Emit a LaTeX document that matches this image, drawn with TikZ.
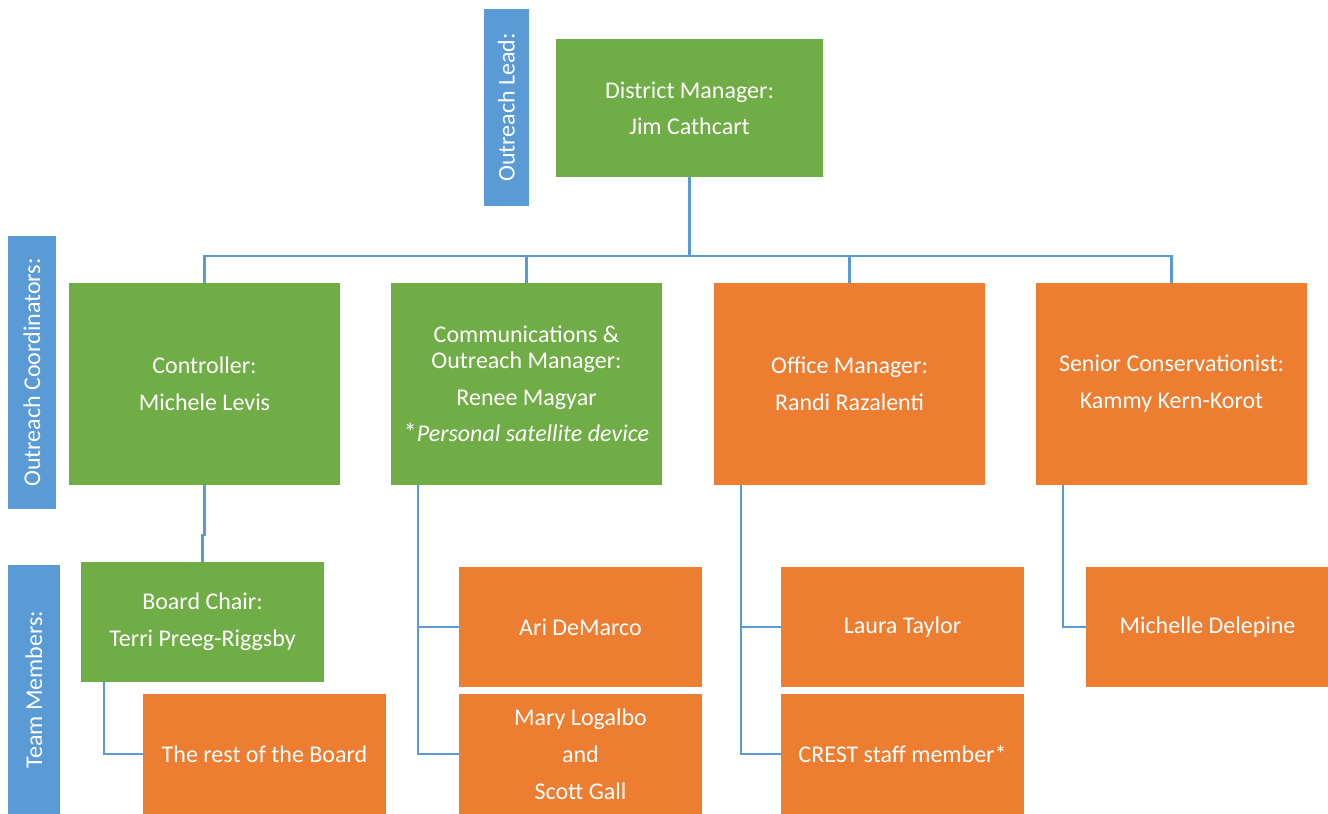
\documentclass[tikz,border=0pt]{standalone}
\usepackage{fontspec}
\setmainfont{Carlito}
\usetikzlibrary{calc}
\definecolor{cgreen}{HTML}{70AD47}
\definecolor{corange}{HTML}{ED7D31}
\definecolor{cblue}{HTML}{5B9BD5}
\tikzset{
  boxbase/.style={inner sep=0pt, outer sep=0pt, text=white, align=center,
    font=\fontsize{24bp}{26bp}\selectfont},
  gbox/.style={boxbase, fill=cgreen},
  obox/.style={boxbase, fill=corange},
  lblbox/.style={boxbase, fill=cblue, rotate=90},
  conn/.style={draw=cblue, line width=2.8bp},
}
\begin{document}
\begin{tikzpicture}[x=1bp,y=-1bp]
\useasboundingbox (0,0) rectangle (1328,813);
% side labels
\node[lblbox, minimum width=197bp, minimum height=45bp] (leadlbl) at (506.5,107.5) {Outreach Lead:};
\node[lblbox, minimum width=273bp, minimum height=48bp] (coordlbl) at (32,372.5) {Outreach Coordinators:};
\node[lblbox, minimum width=249bp, minimum height=52bp] (teamlbl) at (34,689.5) {Team Members:};
% top
\node[gbox, minimum width=267bp, minimum height=138bp] (dm) at (689.5,108) {District Manager:\\[10bp]Jim Cathcart};
% level 2
\node[gbox, minimum width=271bp, minimum height=202bp] (ctrl) at (204.5,384) {Controller:\\[11bp]Michele Levis};
\node[gbox, minimum width=271bp, minimum height=202bp] (comm) at (526.5,384) {Communications \&\\Outreach Manager:\\[11bp]Renee Magyar\\[10bp]{\fontsize{26bp}{26bp}\selectfont *}\textit{Personal satellite device}};
\node[obox, minimum width=271bp, minimum height=202bp] (office) at (849.5,384) {Office Manager:\\[11bp]Randi Razalenti};
\node[obox, minimum width=271bp, minimum height=202bp] (senior) at (1171.5,384) {Senior Conservationist:\\[11bp]Kammy Kern-Korot};
% level 3
\node[gbox, minimum width=243bp, minimum height=120bp] (chair) at (202.5,622) {Board Chair:\\[11bp]Terri Preeg-Riggsby};
\node[obox, minimum width=243bp, minimum height=120bp] (rest) at (264.5,754) {The rest of the Board};
\node[obox, minimum width=243bp, minimum height=120bp] (ari) at (580.5,627) {Ari DeMarco};
\node[obox, minimum width=243bp, minimum height=120bp] (mary) at (580.5,754) {Mary Logalbo\\[11bp]and\\[11bp]Scott Gall};
\node[obox, minimum width=243bp, minimum height=120bp] (laura) at (902.5,627) {Laura Taylor};
\node[obox, minimum width=243bp, minimum height=120bp] (crest) at (902.5,754) {CREST staff member*};
\node[obox, minimum width=243bp, minimum height=120bp] (michelle) at (1207.5,627) {Michelle Delepine};
% connectors
\coordinate (bus) at (689.5,256);
\draw[conn] (dm.south) -- (bus);
\draw[conn] (ctrl.north) |- (bus) -| (senior.north);
\draw[conn] (comm.north) -- (comm.north |- bus);
\draw[conn] (office.north) -- (office.north |- bus);
\draw[conn] (ctrl.south) -- (ctrl.south |- 0,535) -| (chair.north);
\draw[conn] ($(chair.south west)+(23,0)$) |- (rest.west);
\coordinate (commdrop) at ($(comm.south west)+(27,0)$);
\draw[conn] (commdrop) |- (mary.west);
\draw[conn] (commdrop |- ari.west) -- (ari.west);
\coordinate (officedrop) at ($(office.south west)+(27,0)$);
\draw[conn] (officedrop) |- (crest.west);
\draw[conn] (officedrop |- laura.west) -- (laura.west);
\coordinate (seniordrop) at ($(senior.south west)+(27,0)$);
\draw[conn] (seniordrop) |- (michelle.west);
\end{tikzpicture}
\end{document}
